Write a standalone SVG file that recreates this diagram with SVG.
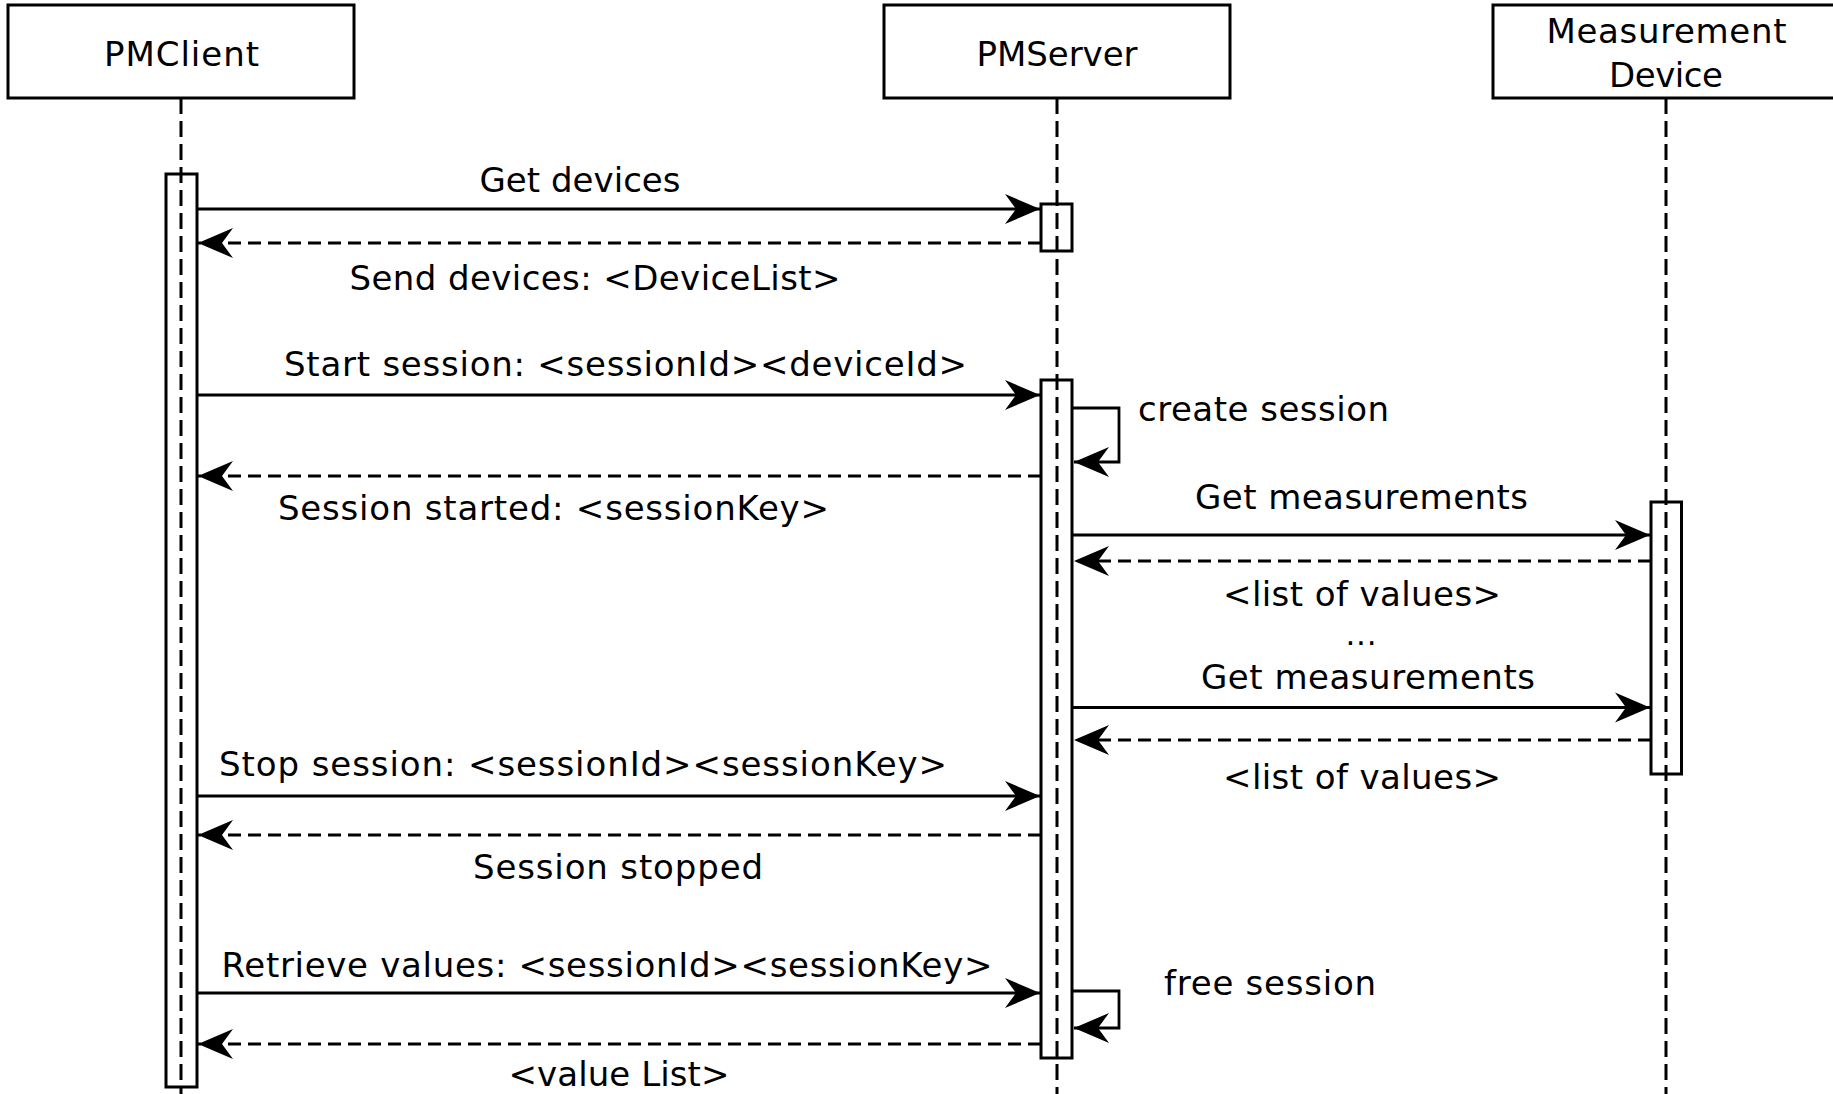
<svg xmlns="http://www.w3.org/2000/svg" width="1833" height="1094" viewBox="0 0 1833 1094">
  <style>
    text { font-family: "DejaVu Sans", "Liberation Sans", sans-serif; font-size: 34px; fill: #000; }
    .c { text-anchor: middle; }
    .dots { font-size: 31px; }
    .box { fill: #fff; stroke: #000; stroke-width: 3; }
    .life { stroke: #000; stroke-width: 3; stroke-dasharray: 16 7; fill: none; }
    .act { fill: #fff; stroke: #000; stroke-width: 3; }
    .msg { stroke: #000; stroke-width: 2.8; fill: none; marker-end: url(#head); }
    .ret { stroke: #000; stroke-width: 2.8; fill: none; stroke-dasharray: 13 7; marker-end: url(#head); }
  </style>
  <defs>
    <marker id="head" viewBox="-37 -16 38 32" refX="0" refY="0" markerWidth="38" markerHeight="32" markerUnits="userSpaceOnUse" orient="auto">
      <path d="M0,0 L-35,-15 L-24,0 L-35,15 Z" fill="#000"/>
    </marker>
  </defs>
  <rect width="1833" height="1094" fill="#fff"/>

  <!-- participants -->
  <g id="pmclient">
    <rect class="box" x="8" y="5" width="346" height="93"/>
    <text class="c" x="181.5" y="66" textLength="155" lengthAdjust="spacing">PMClient</text>
  </g>
  <g id="pmserver">
    <rect class="box" x="884" y="5" width="346" height="93"/>
    <text class="c" x="1057" y="66" textLength="161" lengthAdjust="spacing">PMServer</text>
  </g>
  <g id="device">
    <rect class="box" x="1493" y="5" width="346" height="93"/>
    <text class="c" x="1666.5" y="43" textLength="240" lengthAdjust="spacing">Measurement</text>
    <text class="c" x="1666" y="87" textLength="114" lengthAdjust="spacing">Device</text>
  </g>

  <!-- activation bars -->
  <g id="activations">
    <rect class="act" x="166" y="174" width="31" height="913"/>
    <rect class="act" x="1041" y="204" width="31" height="47"/>
    <rect class="act" x="1041" y="380" width="31" height="678"/>
    <rect class="act" x="1651" y="502" width="30.5" height="272"/>
  </g>

  <!-- lifelines -->
  <g id="lifelines">
    <line class="life" x1="181" y1="98" x2="181" y2="1094"/>
    <line class="life" x1="1057" y1="98" x2="1057" y2="1094"/>
    <line class="life" x1="1666" y1="98" x2="1666" y2="1094"/>
  </g>

  <!-- messages -->
  <g id="connectors">
    <line class="msg" x1="197" y1="209" x2="1040" y2="209"/>
    <line class="ret" x1="1041" y1="243" x2="198" y2="243"/>
    <line class="msg" x1="197" y1="395" x2="1040" y2="395"/>
    <path class="msg" d="M1072,408 H1119 V462 H1074"/>
    <line class="ret" x1="1041" y1="476" x2="198" y2="476"/>
    <line class="msg" x1="1072" y1="535" x2="1650" y2="535"/>
    <line class="ret" x1="1651" y1="561" x2="1074" y2="561"/>
    <line class="msg" x1="1072" y1="707.5" x2="1650" y2="707.5"/>
    <line class="ret" x1="1651" y1="740" x2="1074" y2="740"/>
    <line class="msg" x1="197" y1="796" x2="1040" y2="796"/>
    <line class="ret" x1="1041" y1="835" x2="198" y2="835"/>
    <line class="msg" x1="197" y1="993" x2="1040" y2="993"/>
    <path class="msg" d="M1072,991 H1119 V1028 H1074"/>
    <line class="ret" x1="1041" y1="1044" x2="198" y2="1044"/>
  </g>

  <!-- message labels -->
  <g id="labels">
    <text class="c" x="580" y="191.5" textLength="201" lengthAdjust="spacing">Get devices</text>
    <text class="c" x="595" y="289.5" textLength="491" lengthAdjust="spacing">Send devices: &lt;DeviceList&gt;</text>
    <text class="c" x="625.5" y="376" textLength="683" lengthAdjust="spacing">Start session: &lt;sessionId&gt;&lt;deviceId&gt;</text>
    <text x="1138" y="420.5" textLength="251" lengthAdjust="spacing">create session</text>
    <text class="c" x="553.5" y="520" textLength="551" lengthAdjust="spacing">Session started: &lt;sessionKey&gt;</text>
    <text class="c" x="1361.5" y="508.5" textLength="333" lengthAdjust="spacing">Get measurements</text>
    <text class="c" x="1362" y="606" textLength="278" lengthAdjust="spacing">&lt;list of values&gt;</text>
    <text class="c dots" x="1361" y="645" textLength="31" lengthAdjust="spacing">...</text>
    <text class="c" x="1368" y="688.5" textLength="334" lengthAdjust="spacing">Get measurements</text>
    <text class="c" x="1362" y="788.5" textLength="278" lengthAdjust="spacing">&lt;list of values&gt;</text>
    <text x="219" y="776" textLength="728" lengthAdjust="spacing">Stop session: &lt;sessionId&gt;&lt;sessionKey&gt;</text>
    <text class="c" x="618" y="878.5" textLength="290" lengthAdjust="spacing">Session stopped</text>
    <text x="221.5" y="977" textLength="771" lengthAdjust="spacing">Retrieve values: &lt;sessionId&gt;&lt;sessionKey&gt;</text>
    <text x="1164" y="995" textLength="212" lengthAdjust="spacing">free session</text>
    <text class="c" x="619" y="1085.5" textLength="221" lengthAdjust="spacing">&lt;value List&gt;</text>
  </g>
</svg>
